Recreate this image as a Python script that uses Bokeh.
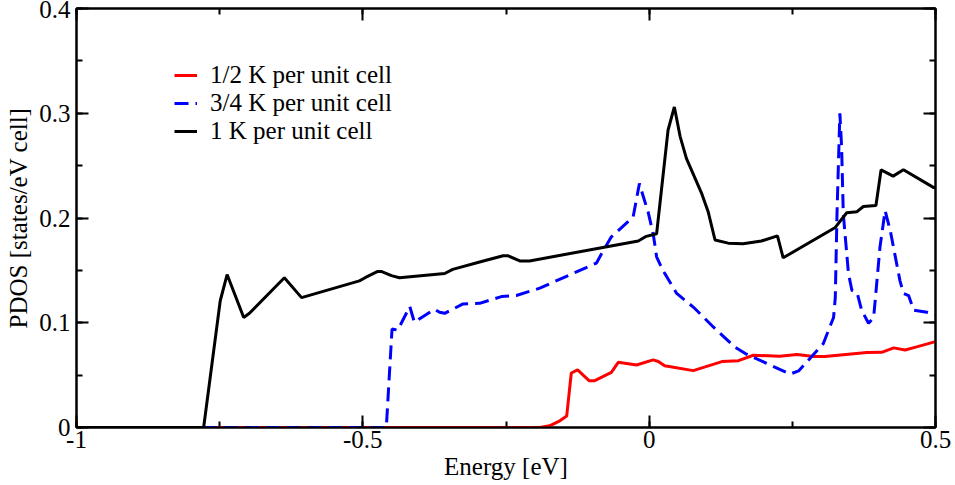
from bokeh.plotting import figure
from bokeh.models import (Range1d, SingleIntervalTicker, LinearAxis, Legend, LegendItem,
                          CustomJSTickFormatter)
from bokeh.embed import file_html
from bokeh.resources import INLINE

# ---- data ----
k1_x = [-1.0, -0.778, -0.749, -0.737, -0.708, -0.698, -0.637, -0.607, -0.506, -0.496, -0.474,
        -0.468, -0.450, -0.436, -0.357, -0.343, -0.296, -0.255, -0.247, -0.226, -0.209, -0.019,
        -0.005, 0.013, 0.033, 0.044, 0.054, 0.065, 0.092, 0.103, 0.115, 0.138, 0.164, 0.196,
        0.224, 0.234, 0.325, 0.345, 0.363, 0.374, 0.396, 0.405, 0.426, 0.444, 0.497, 0.5]
k1_y = [0, 0, 0.121, 0.146, 0.105, 0.109, 0.143, 0.124, 0.140, 0.143, 0.149,
        0.149, 0.145, 0.143, 0.147, 0.151, 0.158, 0.164, 0.164, 0.159, 0.159, 0.178,
        0.1825, 0.185, 0.284, 0.306, 0.278, 0.257, 0.223, 0.206, 0.179, 0.176, 0.1755, 0.178,
        0.183, 0.162, 0.191, 0.205, 0.206, 0.211, 0.212, 0.246, 0.240, 0.246, 0.229, 0.229]

k34_x = [-1.0, -0.459, -0.449, -0.439, -0.418, -0.410, -0.375, -0.366, -0.357, -0.325, -0.296,
         -0.258, -0.232, -0.191, -0.092, -0.080, -0.066, -0.028, -0.017, -0.010, -0.002, 0.007,
         0.013, 0.024, 0.048, 0.077, 0.089, 0.112, 0.150, 0.170, 0.246, 0.261, 0.304, 0.322,
         0.325, 0.328, 0.333, 0.336, 0.339, 0.348, 0.354, 0.363, 0.371, 0.383, 0.392, 0.403,
         0.412, 0.421, 0.438, 0.444, 0.453, 0.462, 0.485, 0.5]
k34_y = [0, 0, 0.094, 0.093, 0.1155, 0.1005, 0.113, 0.110, 0.109, 0.118, 0.1185,
         0.125, 0.126, 0.133, 0.157, 0.169, 0.182, 0.201, 0.233, 0.220, 0.206, 0.185,
         0.163, 0.150, 0.128, 0.115, 0.1085, 0.096, 0.0766, 0.070, 0.051, 0.054, 0.080, 0.105,
         0.124, 0.204, 0.300, 0.268, 0.204, 0.147, 0.131, 0.129, 0.112, 0.0995, 0.105, 0.172,
         0.207, 0.188, 0.140, 0.128, 0.126, 0.112, 0.110, 0.108]

k12_x = [-1.0, -0.191, -0.174, -0.156, -0.144, -0.136, -0.125, -0.105, -0.095, -0.066, -0.054,
         -0.022, 0.007, 0.016, 0.027, 0.077, 0.127, 0.156, 0.182, 0.228, 0.258, 0.287, 0.307,
         0.380, 0.406, 0.427, 0.447, 0.467, 0.5]
k12_y = [0, 0, 0.0016, 0.0064, 0.011, 0.052, 0.055, 0.0447, 0.0447, 0.0526, 0.0622,
         0.0597, 0.0645, 0.063, 0.059, 0.0543, 0.0629, 0.0638, 0.069, 0.068, 0.0696, 0.0677, 0.0677,
         0.0715, 0.0718, 0.076, 0.074, 0.077, 0.082]

labels = ["1/2 K per unit cell", "3/4 K per unit cell", "1 K per unit cell"]
x_label = "Energy [eV]"
y_label = "PDOS [states/eV cell]"

FONT = "Liberation Serif"
FS = "25px"

p = figure(width=955, height=485, output_backend="svg", toolbar_location=None,
           x_range=Range1d(-1, 0.5), y_range=Range1d(0, 0.4),
           min_border_left=76, min_border_right=20, min_border_top=8, min_border_bottom=58,
           margin=(0, 0, 0, 0))
p.background_fill_color = "white"
p.border_fill_color = "white"
p.xgrid.visible = False
p.ygrid.visible = False
p.outline_line_color = "black"
p.outline_line_width = 2

r_red = p.line(k12_x, k12_y, line_color="#ff0000", line_width=3)
r_blue = p.line(k34_x, k34_y, line_color="#0000ff", line_width=3, line_dash="14 7")
r_black = p.line(k1_x, k1_y, line_color="black", line_width=3)

fmt = CustomJSTickFormatter(code="return tick.toFixed(2).replace(/\\.?0+$/, '');")
blank = CustomJSTickFormatter(code="return '';")

def style_axis(ax, labels_on=True):
    ax.axis_line_width = 2
    ax.axis_line_color = "black"
    ax.major_tick_in = 12
    ax.major_tick_out = 0
    ax.minor_tick_in = 6
    ax.minor_tick_out = 0
    ax.major_tick_line_width = 2
    ax.minor_tick_line_width = 2
    ax.major_label_text_font = FONT
    ax.major_label_text_font_size = FS
    ax.major_label_text_color = "black"
    ax.axis_label_text_font = FONT
    ax.axis_label_text_font_size = FS
    ax.axis_label_text_font_style = "normal"
    ax.axis_label_text_color = "black"
    ax.formatter = fmt if labels_on else blank

xt = SingleIntervalTicker(interval=0.5, num_minor_ticks=2)
yt = SingleIntervalTicker(interval=0.1, num_minor_ticks=2)

p.xaxis.ticker = xt
p.yaxis.ticker = yt
style_axis(p.xaxis[0])
style_axis(p.yaxis[0])
p.xaxis.axis_label = x_label
p.yaxis.axis_label = y_label
p.xaxis.major_label_standoff = 3
p.xaxis.axis_label_standoff = 2
p.yaxis.major_label_standoff = 6
p.yaxis.axis_label_standoff = 4

top = LinearAxis(ticker=SingleIntervalTicker(interval=0.5, num_minor_ticks=2))
style_axis(top, labels_on=False)
top.major_label_standoff = 0
right = LinearAxis(ticker=SingleIntervalTicker(interval=0.1, num_minor_ticks=2))
style_axis(right, labels_on=False)
right.major_label_standoff = 0
p.add_layout(top, "above")
p.add_layout(right, "right")

legend = Legend(items=[LegendItem(label=labels[0], renderers=[r_red]),
                       LegendItem(label=labels[1], renderers=[r_blue]),
                       LegendItem(label=labels[2], renderers=[r_black])],
                location=(98, 282))
legend.border_line_color = None
legend.background_fill_alpha = 0
legend.padding = 0
legend.margin = 0
legend.spacing = 0
legend.glyph_width = 23
legend.glyph_height = 28
legend.label_height = 28
legend.label_standoff = 13
legend.label_text_font = FONT
legend.label_text_font_size = FS
legend.label_text_color = "black"
p.add_layout(legend, "center")

open("out.html", "w").write(file_html(p, INLINE))
